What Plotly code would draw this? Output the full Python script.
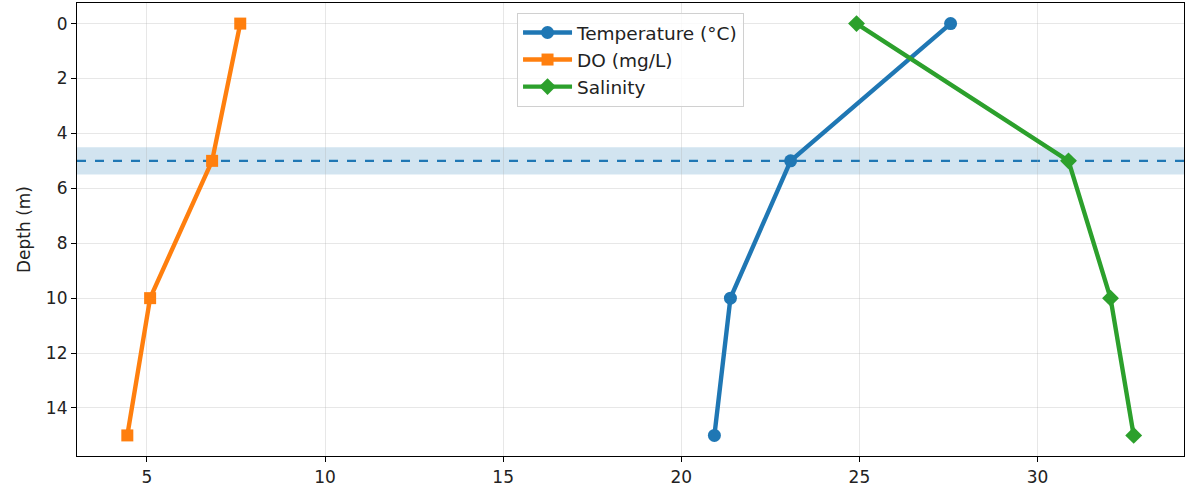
import plotly.graph_objects as go

depth = [0, 5, 10, 15]
temperature = [27.56, 23.07, 21.38, 20.93]
dissolved_oxygen = [7.62, 6.83, 5.09, 4.45]
salinity = [24.92, 30.87, 32.05, 32.7]
thermocline_depth = 5
band_half = 0.5

x_ticks = [5, 10, 15, 20, 25, 30]
y_ticks = [0, 2, 4, 6, 8, 10, 12, 14]

font = "DejaVu Sans"
fig = go.Figure()

fig.add_trace(go.Scatter(x=temperature, y=depth, mode="lines+markers", name="Temperature (°C)",
                         line=dict(color="#1f77b4", width=4.4),
                         marker=dict(symbol="circle", size=13, color="#1f77b4"),
                         legendgroup="a"))
fig.add_trace(go.Scatter(x=dissolved_oxygen, y=depth, mode="lines+markers", name="DO (mg/L)",
                         line=dict(color="#ff7f0e", width=4.4),
                         marker=dict(symbol="square", size=12, color="#ff7f0e"),
                         legendgroup="b"))
fig.add_trace(go.Scatter(x=salinity, y=depth, mode="lines+markers", name="Salinity",
                         line=dict(color="#2ca02c", width=4.4),
                         marker=dict(symbol="diamond", size=13, color="#2ca02c"),
                         legendgroup="c"))

fig.add_shape(type="rect", xref="x domain", yref="y", x0=0, x1=1,
              y0=thermocline_depth - band_half, y1=thermocline_depth + band_half,
              fillcolor="rgba(31,119,180,0.2)", line=dict(width=0), layer="below")
fig.add_shape(type="line", xref="x domain", yref="y", x0=0, x1=1,
              y0=thermocline_depth, y1=thermocline_depth,
              line=dict(color="#1f77b4", width=2.2, dash="dash"), layer="below")

xmin = min(dissolved_oxygen)
xmax = max(salinity)
xpad = (xmax - xmin) * 0.05

fig.update_layout(
    width=1192, height=489,
    margin=dict(l=77, r=8, t=2, b=32),
    paper_bgcolor="white", plot_bgcolor="white",
    font=dict(family=font, size=17, color="#222"),
    showlegend=True,
    legend=dict(x=0.3975, y=0.978, xanchor="left", yanchor="top",
                bgcolor="rgba(255,255,255,0.8)", bordercolor="#d0d0d0", borderwidth=1,
                font=dict(family=font, size=18.5, color="#222"),
                tracegroupgap=3, itemwidth=49, traceorder="normal"),
    xaxis=dict(range=[xmin - xpad, xmax + xpad], tickvals=x_ticks,
               showgrid=True, gridcolor="rgba(176,176,176,0.3)", gridwidth=1,
               zeroline=False, showline=True, linecolor="black", linewidth=1.2, mirror=True,
               ticks="outside", ticklen=5, tickcolor="black", tickfont=dict(size=17)),
    yaxis=dict(range=[15.75, -0.75], tickvals=y_ticks,
               showgrid=True, gridcolor="rgba(176,176,176,0.3)", gridwidth=1,
               zeroline=False, showline=True, linecolor="black", linewidth=1.2, mirror=True,
               ticks="outside", ticklen=5, tickcolor="black", tickfont=dict(size=17),
               title=dict(text="Depth (m)", font=dict(size=17), standoff=10)),
)

fig.write_html("out.html", config={"displayModeBar": False},
               post_script="document.body.style.margin='0';")
